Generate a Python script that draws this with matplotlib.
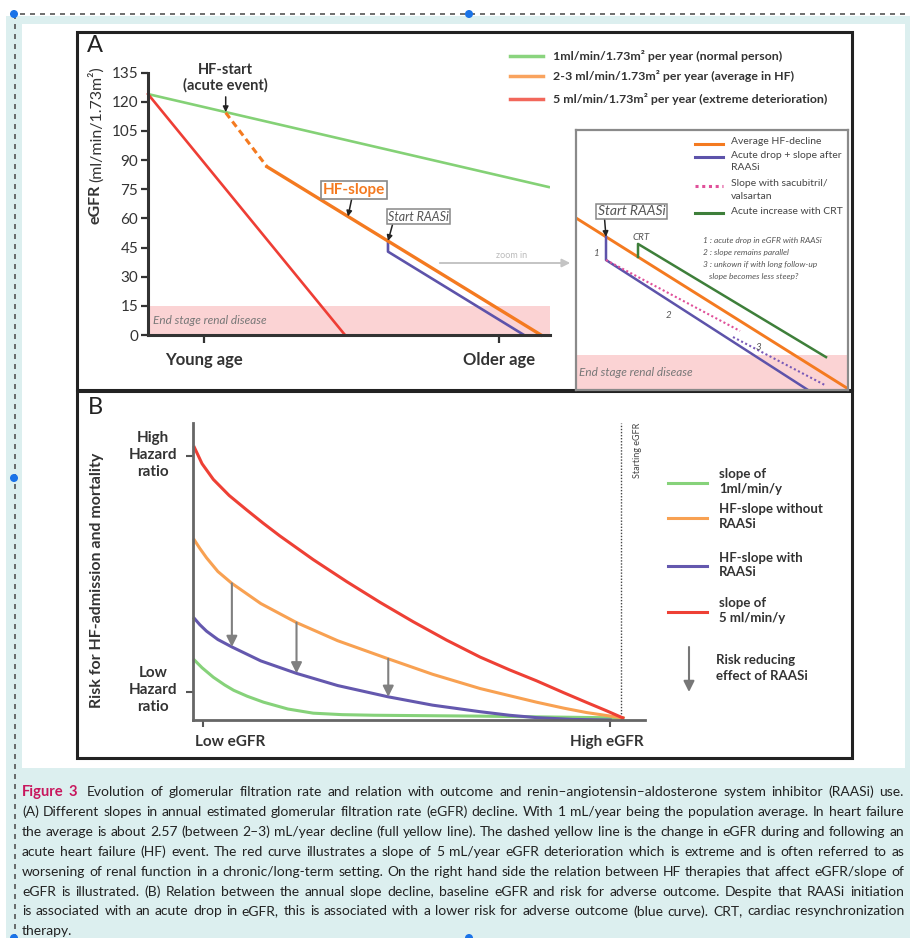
import matplotlib
matplotlib.use('Agg')
import matplotlib.pyplot as plt
from matplotlib.patches import Rectangle, Circle
from matplotlib import font_manager

avail = {f.name for f in font_manager.fontManager.ttflist}
FONT = 'Lato' if 'Lato' in avail else 'DejaVu Sans'
plt.rcParams['font.family'] = [FONT, 'DejaVu Sans']

# ---- panel A: eGFR decline (x = position on age axis, y = eGFR) ----
normal_x = [0, 402]
normal_y = [124, 76]
extreme_x = [0, 197]
extreme_y = [124, 0]
acute_x = [77.7, 119]
acute_y = [114.4, 86.6]
hf_x = [119, 393]
hf_y = [86.6, 0]
raasi_x = [240, 240, 376]
raasi_y = [48.4, 42.9, 0]
esrd_level = 15
a_yticks = [0, 15, 30, 45, 60, 75, 90, 105, 120, 135]
a_xticks = [56, 351]
a_xlabels = ['Young age', 'Older age']
hf_start_pt = (77.7, 114.7)
hf_slope_pt = (200, 61)
raasi_pt = (240, 48.4)

# ---- panel A inset (zoom in) ----
z_hf_x = [0, 274]
z_hf_y = [73.7, 0]
z_raasi_x = [30, 30, 232]
z_raasi_y = [65.6, 55.7, 0]
z_sac1_x = [30, 164]
z_sac1_y = [55.7, 25.3]
z_sac2_x = [157, 249]
z_sac2_y = [22.7, 2.1]
z_crt_x = [62, 62, 250]
z_crt_y = [57.0, 62.6, 14.1]
z_raasi_pt = (30, 65.6)

# ---- panel B: risk vs baseline eGFR ----
red_x = [0.3, 2.0, 4.5, 8.0, 11.9, 15.5, 19.2, 26.6, 34.0, 41.4, 48.7, 56.1, 63.5, 70.0, 76.0, 82.0, 87.1, 91.5, 95.1]
red_y = [91.8, 86.3, 81.0, 75.6, 70.7, 66.3, 62.0, 54.0, 46.6, 39.6, 33.1, 26.9, 21.2, 16.9, 13.2, 9.2, 5.9, 3.1, 0.7]
orange_x = [0.3, 1.5, 3.0, 5.5, 8.6, 15.0, 22.9, 32.0, 43.2, 53.0, 63.5, 70.0, 76.0, 82.0, 87.1, 95.1]
orange_y = [60.6, 57.8, 54.6, 50.0, 46.0, 39.2, 32.8, 26.7, 20.6, 15.4, 10.6, 8.2, 6.0, 4.0, 2.5, 0.7]
blue_x = [0.3, 1.5, 3.0, 5.5, 8.6, 15.0, 22.9, 32.0, 43.2, 53.0, 63.5, 70.0, 76.0, 84.0, 92.3]
blue_y = [34.2, 32.1, 29.9, 27.1, 24.6, 19.9, 15.7, 11.6, 7.8, 5.0, 2.8, 1.6, 0.8, 0.2, 0.0]
green_x = [0.3, 2.0, 4.5, 7.0, 9.0, 12.0, 15.6, 21.0, 26.6, 33.0, 40.0, 63.5, 95.1]
green_y = [20.2, 17.6, 14.4, 11.8, 10.0, 8.0, 6.0, 3.7, 2.3, 1.8, 1.6, 1.3, 0.7]
arrow_x = [8.6, 22.9, 43.2]
arrow_from = [46.0, 32.8, 20.6]
arrow_to = [24.6, 15.7, 7.8]
start_egfr = 94.8
b_xticks = [2.2, 92.3]
b_yticks = [9.5, 89]

caption = [
    "Evolution of glomerular filtration rate and relation with outcome and renin\u2013angiotensin\u2013aldosterone system inhibitor (RAASi) use.",
    "(A) Different slopes in annual estimated glomerular filtration rate (eGFR) decline. With 1 mL/year being the population average. In heart failure",
    "the average is about 2.57 (between 2\u20133) mL/year decline (full yellow line). The dashed yellow line is the change in eGFR during and following an",
    "acute heart failure (HF) event. The red curve illustrates a slope of 5 mL/year eGFR deterioration which is extreme and is often referred to as",
    "worsening of renal function in a chronic/long-term setting. On the right hand side the relation between HF therapies that affect eGFR/slope of",
    "eGFR is illustrated. (B) Relation between the annual slope decline, baseline eGFR and risk for adverse outcome. Despite that RAASi initiation",
    "is associated with an acute drop in eGFR, this is associated with a lower risk for adverse outcome (blue curve). CRT, cardiac resynchronization",
    "therapy.",
]

C_GREEN = '#84d176'
C_ORANGE = '#f47a20'
C_RED = '#ee3e35'
C_BLUE = '#5d53aa'
C_PINK = '#fbd3d4'
C_DARK = '#333333'

W, H = 910, 938
fig = plt.figure(figsize=(W / 100, H / 100), dpi=100)
bg = fig.add_axes([0, 0, 1, 1])
bg.set_xlim(0, W)
bg.set_ylim(H, 0)
bg.axis('off')
r = fig.canvas.get_renderer()


def px_axes(x0, y0, x1, y1):
    ax = fig.add_axes([x0 / W, 1 - y1 / H, (x1 - x0) / W, (y1 - y0) / H])
    ax.set_facecolor('none')
    return ax


# page decoration
bg.add_patch(Rectangle((6, 16), W - 6, H - 16, fc='#dcefef', ec='none'))
bg.add_patch(Rectangle((22, 24), 883, 744, fc='white', ec='none'))
bg.plot([10, W], [14, 14], ls=(0, (3, 3)), color='#555555', lw=1.2)
bg.plot([14.5, 14.5], [14, H], ls=(0, (3, 3)), color='#555555', lw=1.2)
for cx, cy in [(14, 14), (469, 14), (14, 478), (14, H), (469, H)]:
    bg.add_patch(Circle((cx, cy), 4, fc='#1a73e8', ec='none', zorder=5))
bg.add_patch(Rectangle((77, 32), 775, 358, fc='none', ec='#222222', lw=2.2))
bg.add_patch(Rectangle((77, 391), 775, 367, fc='none', ec='#222222', lw=2.2))
bg.text(95, 45, 'A', fontsize=17, ha='center', va='center', color='#222')
bg.text(95, 408, 'B', fontsize=17, ha='center', va='center', color='#222')

# ---------------- panel A ----------------
axA = px_axes(148, 72.7, 550, 335)
axA.set_xlim(0, 402)
axA.set_ylim(0, 135)
axA.axhspan(0, esrd_level, color=C_PINK, lw=0, zorder=0)
axA.text(5, 7.5, 'End stage renal disease', style='italic', fontsize=8.5,
         color='#777', va='center')
axA.plot(normal_x, normal_y, color=C_GREEN, lw=1.9, solid_capstyle='butt')
axA.plot(extreme_x, extreme_y, color=C_RED, lw=1.9, clip_on=False)
axA.plot(acute_x, acute_y, color=C_ORANGE, lw=2.2, ls=(0, (2.2, 1.4)))
axA.plot(raasi_x, raasi_y, color=C_BLUE, lw=1.9, clip_on=False)
axA.plot(hf_x, hf_y, color=C_ORANGE, lw=2.4, clip_on=False)
for s in ['top', 'right']:
    axA.spines[s].set_visible(False)
for s in ['left', 'bottom']:
    axA.spines[s].set_linewidth(2.2)
    axA.spines[s].set_color(C_DARK)
axA.set_yticks(a_yticks)
axA.set_xticks(a_xticks)
axA.set_xticklabels(a_xlabels, fontsize=12, fontweight='bold', color=C_DARK)
axA.tick_params(axis='y', direction='out', length=5, width=1.6, colors=C_DARK,
                labelsize=11, pad=2)
axA.tick_params(axis='x', direction='out', length=6, width=1.6, colors=C_DARK,
                pad=6)

axA.annotate('HF-start\n(acute event)', xy=hf_start_pt, xytext=(0, 14),
             textcoords='offset points', ha='center', va='bottom', fontsize=10.5,
             fontweight='bold', color=C_DARK, linespacing=1.1,
             arrowprops=dict(arrowstyle='-|>', color='#222', lw=1.1,
                             mutation_scale=8, shrinkA=1, shrinkB=0))
axA.annotate('HF-slope', xy=hf_slope_pt, xytext=(4, 14), textcoords='offset points',
             ha='center', va='bottom', fontsize=11, fontweight='bold', color=C_ORANGE,
             bbox=dict(boxstyle='square,pad=0.12', fc='white', ec='#888', lw=1.2),
             arrowprops=dict(arrowstyle='-|>', color='#222', lw=1.1,
                             mutation_scale=8, shrinkA=0, shrinkB=0))
axA.annotate('Start RAASi', xy=raasi_pt, xytext=(22, 13), textcoords='offset points',
             ha='center', va='bottom', fontsize=9, style='italic', color='#555',
             bbox=dict(boxstyle='square,pad=0.12', fc='white', ec='#888', lw=1.1),
             arrowprops=dict(arrowstyle='-|>', color='#222', lw=1.1,
                             mutation_scale=8, shrinkA=0, shrinkB=0,
                             relpos=(0.08, 0)))

# y label of panel A
t1 = bg.text(96, 224, 'eGFR', rotation=90, rotation_mode='anchor', ha='left',
             va='center', fontsize=11.5, fontweight='bold', color=C_DARK)
h1 = t1.get_window_extent(r).height
bg.text(96, 224 - h1 - 3, '(ml/min/1.73m\u00b2)', rotation=90, rotation_mode='anchor',
        ha='left', va='center', fontsize=11.5, color=C_DARK)

# legend of panel A
for yy, col, lab in [(56, '#8ad47e', '1ml/min/1.73m\u00b2 per year (normal person)'),
                     (76, '#f9a35e', '2-3 ml/min/1.73m\u00b2 per year (average in HF)'),
                     (99, '#f2675b', '5 ml/min/1.73m\u00b2 per year (extreme deterioration)')]:
    bg.plot([510, 543], [yy, yy], color=col, lw=2.5)
    bg.text(553, yy, lab, fontsize=8.9, fontweight='bold', color=C_DARK, va='center')

# zoom in arrow
bg.annotate('', xy=(573, 263), xytext=(437, 263),
            arrowprops=dict(arrowstyle='-|>', color='#c4c4c4', lw=1.4, mutation_scale=12))
bg.text(512, 255, 'zoom in', fontsize=6.5, color='#bbbbbb', ha='center', va='center')

# ---------------- inset ----------------
axZ = px_axes(576, 130, 848, 390)
axZ.set_xlim(0, 272)
axZ.set_ylim(0, 111.4)
axZ.set_xticks([])
axZ.set_yticks([])
for s in axZ.spines.values():
    s.set_color('#8a8a8a')
    s.set_linewidth(1.6)
axZ.set_facecolor('white')
axZ.axhspan(0, esrd_level, color=C_PINK, lw=0, zorder=0)
axZ.text(3, 7.5, 'End stage renal disease', style='italic', fontsize=8.5,
         color='#777', va='center')
axZ.plot(z_hf_x, z_hf_y, color=C_ORANGE, lw=2.1)
axZ.plot(z_raasi_x, z_raasi_y, color=C_BLUE, lw=1.8)
axZ.plot(z_sac1_x, z_sac1_y, color='#e0509a', lw=1.5, ls=(0, (1, 1.2)))
axZ.plot(z_sac2_x, z_sac2_y, color='#7a5ab8', lw=1.5, ls=(0, (1, 1.2)))
axZ.plot(z_crt_x, z_crt_y, color='#3e7f3a', lw=1.8)
axZ.annotate('Start RAASi', xy=z_raasi_pt, xytext=(-6, 14), textcoords='offset points',
             ha='left', va='bottom', fontsize=10, style='italic', color='#555',
             bbox=dict(boxstyle='square,pad=0.12', fc='white', ec='#888', lw=1.1),
             arrowprops=dict(arrowstyle='-|>', color='#222', lw=1.1,
                             mutation_scale=8, shrinkA=0, shrinkB=0,
                             relpos=(0.1, 0)))

# overlay for texts that sit on top of the inset
fg = px_axes(0, 0, W, H)
fg.set_xlim(0, W)
fg.set_ylim(H, 0)
fg.axis('off')

fg.text(641, 237, 'CRT', fontsize=7, style='italic', color='#555', ha='center', va='center')
fg.text(597, 253, '1', fontsize=7, style='italic', color='#555', ha='center', va='center')
fg.text(669, 315, '2', fontsize=7, style='italic', color='#555', ha='center', va='center')
fg.text(758, 347, '3', fontsize=7, style='italic', color='#555', ha='center', va='center')
for yy, txt in [(241, '1 : acute drop in eGFR with RAASi'),
                (252.5, '2 : slope remains parallel'),
                (264, '3 : unkown if with long follow-up'),
                (276, '   slope becomes less steep?')]:
    fg.text(703, yy, txt, fontsize=6, style='italic', color='#555', va='center')

for yy, col, ls, txt in [(144, C_ORANGE, '-', 'Average HF-decline'),
                         (157, C_BLUE, '-', 'Acute drop + slope after\nRAASi'),
                         (186, '#e0509a', (0, (1, 1.2)), 'Slope with sacubitril/\nvalsartan'),
                         (213, '#3e7f3a', '-', 'Acute increase with CRT')]:
    fg.plot([695, 723], [yy, yy], color=col, lw=2.2, ls=ls)
    fg.text(731, yy - 6.5, txt, fontsize=7.5, color='#444', va='top', linespacing=1.45)

# ---------------- panel B ----------------
axB = px_axes(193, 423, 645, 720)
axB.set_xlim(0, 100)
axB.set_ylim(0, 100)
axB.axvline(start_egfr, color='#444', lw=1, ls=(0, (1, 1.2)))
axB.plot(green_x, green_y, color='#86d27a', lw=2.2, clip_on=False)
axB.plot(blue_x, blue_y, color='#6458ae', lw=2.2, clip_on=False)
axB.plot(orange_x, orange_y, color='#f8a152', lw=2.2, clip_on=False)
axB.plot(red_x, red_y, color='#ee4035', lw=2.2, clip_on=False)
for ax_, y0, y1 in zip(arrow_x, arrow_from, arrow_to):
    axB.annotate('', xy=(ax_, y1), xytext=(ax_, y0),
                 arrowprops=dict(arrowstyle='-|>', color='#808080', lw=1.5,
                                 mutation_scale=16, shrinkA=0, shrinkB=0))
for s in ['top', 'right']:
    axB.spines[s].set_visible(False)
for s in ['left', 'bottom']:
    axB.spines[s].set_linewidth(2)
    axB.spines[s].set_color('#666')
axB.set_xticks(b_xticks)
axB.set_yticks(b_yticks)
axB.set_xticklabels([])
axB.set_yticklabels([])
axB.tick_params(direction='out', length=5, width=1.5, colors='#555')

bg.text(230, 742, 'Low eGFR', fontsize=11, fontweight='bold', color=C_DARK,
        ha='center', va='center')
bg.text(607, 742, 'High eGFR', fontsize=11, fontweight='bold', color=C_DARK,
        ha='center', va='center')
bg.text(153, 455, 'High\nHazard\nratio', fontsize=11, fontweight='bold', color=C_DARK,
        ha='center', va='center', linespacing=1.3)
bg.text(153, 690, 'Low\nHazard\nratio', fontsize=11, fontweight='bold', color=C_DARK,
        ha='center', va='center', linespacing=1.3)
bg.text(97, 580, 'Risk for HF-admission and mortality', rotation=90, fontsize=11.5,
        fontweight='bold', color=C_DARK, ha='center', va='center')
bg.text(637, 423, 'Starting eGFR', rotation=90, fontsize=6.5, color='#444',
        ha='center', va='top')

for yy, col, txt in [(482.7, '#86d27a', 'slope of\n1ml/min/y'),
                     (517.7, '#f8a152', 'HF-slope without\nRAASi'),
                     (566, '#6458ae', 'HF-slope with\nRAASi'),
                     (611.7, '#ee4035', 'slope of\n5 ml/min/y')]:
    bg.plot([668, 707], [yy, yy], color=col, lw=2.2)
    bg.text(719, yy - 1, txt, fontsize=9.5, fontweight='bold', color=C_DARK,
            va='center', linespacing=1.3)
bg.annotate('', xy=(689, 692), xytext=(689, 647),
            arrowprops=dict(arrowstyle='-|>', color='#777', lw=1.5,
                            mutation_scale=16, shrinkA=0, shrinkB=0))
bg.text(716, 668, 'Risk reducing\neffect of RAASi', fontsize=9.5, fontweight='bold',
        color=C_DARK, va='center', linespacing=1.3)

# ---------------- caption (justified) ----------------
X0, X1 = 22, 904
cap_color = '#222222'

# pick a font size so that the longest line nearly fills the width
probe_fs = 10
widest = 0
for i, line in enumerate(caption[:-1]):
    full = ('Figure 3  ' + line) if i == 0 else line
    t = bg.text(0, 0, full, fontsize=probe_fs)
    widest = max(widest, t.get_window_extent(r).width)
    t.remove()
cap_fs = probe_fs * (X1 - X0 - 6) / widest


def justify(tokens, y, last=False):
    texts = [bg.text(X0, y, w, va='center', ha='left', **kw) for w, kw in tokens]
    widths = [t.get_window_extent(r).width for t in texts]
    if last or len(texts) < 2:
        gap = 3.5
    else:
        gap = (X1 - X0 - sum(widths)) / (len(texts) - 1)
    x = X0
    for t, w in zip(texts, widths):
        t.set_x(x)
        x += w + gap


plain = dict(fontsize=cap_fs, color=cap_color)
for i, line in enumerate(caption):
    tokens = [(w, plain) for w in line.split(' ')]
    if i == 0:
        head = dict(fontsize=cap_fs + 0.6, color='#c8175d', fontweight='bold')
        tokens = [('Figure', head), ('3 ', head)] + tokens
    justify(tokens, 792 + 19.9 * i, last=(i == len(caption) - 1))

fig.savefig('out.png', dpi=100)
